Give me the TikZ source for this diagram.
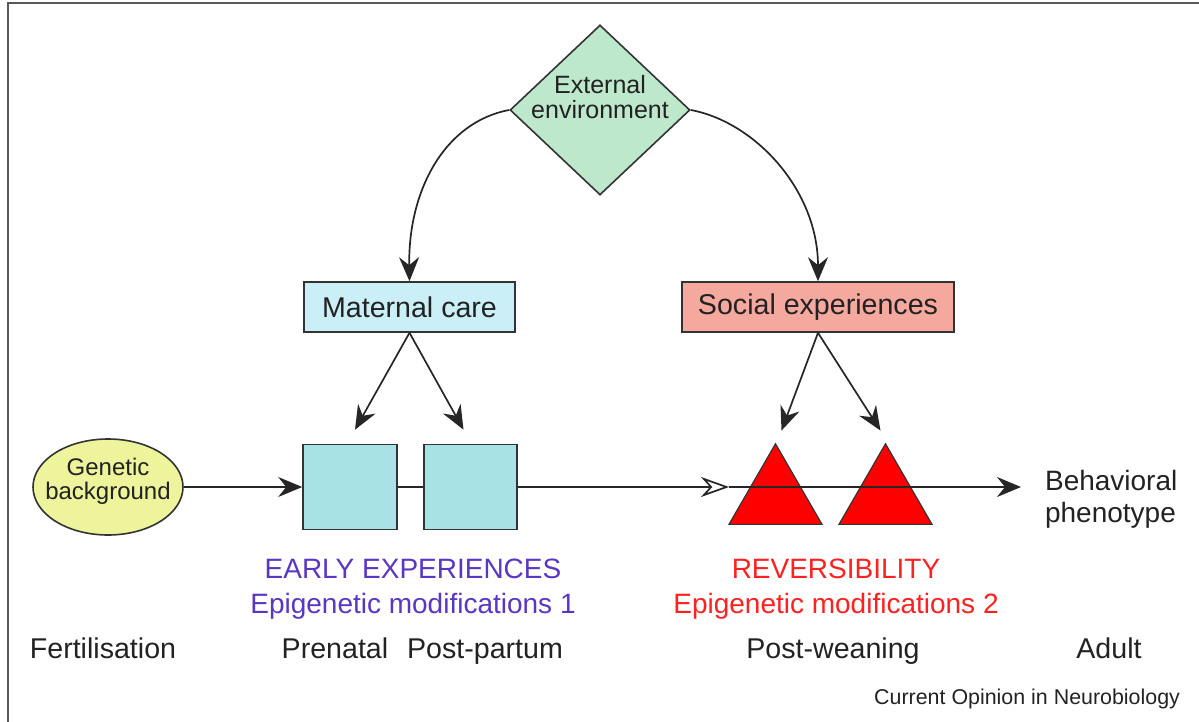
\documentclass[tikz,border=0pt]{standalone}
\usepackage{fontspec}
\setmainfont{Liberation Sans}
\usetikzlibrary{shapes.geometric,arrows.meta,calc}
\definecolor{dgreen}{HTML}{BDE8CB}
\definecolor{mblue}{HTML}{CBEFF7}
\definecolor{sred}{HTML}{F5A89E}
\definecolor{steal}{HTML}{A8E2E5}
\definecolor{eyel}{HTML}{EEF49C}
\definecolor{purp}{HTML}{5A36C4}
\definecolor{rtxt}{HTML}{FF2020}
\definecolor{edge}{HTML}{333333}
\definecolor{txt}{HTML}{222222}
\tikzset{
  every node/.style={text=txt},
  box/.style={draw=edge, line width=0.8pt, inner sep=0pt},
  bigtxt/.style={font=\fontsize{14.3}{17.5}\selectfont},
  arr/.style={-{Stealth[length=12pt,width=10pt,inset=4pt]}, line width=0.85pt, draw=black!85},
  openarr/.style={-{Stealth[open,fill=white,length=14pt,width=10pt,inset=4.5pt]}, line width=0.85pt, draw=black!85},
  plain/.style={line width=0.85pt, draw=black!85},
  tri/.style={regular polygon, regular polygon sides=3, minimum size=53.7pt, fill=red, draw=edge, line width=0.6pt, inner sep=0pt}
}
\begin{document}
\begin{tikzpicture}[x=0.5pt,y=-0.5pt]
\useasboundingbox (0,0) rectangle (1199,722);
% frame
\draw[line width=1pt, draw=black!65] (8,722) -- (8,3) -- (1199,3);

% diamond
\node[box, diamond, fill=dgreen, minimum width=90pt, minimum height=85pt,
  label={[yshift=6.5pt, align=center, font=\fontsize{12.5}{12.5}\selectfont, text=txt]center:External\\environment}]
  (env) at (600,110) {};

% top boxes
\node[box, fill=mblue, minimum width=105.5pt, minimum height=25pt, bigtxt] (mat) at (409.5,307) {Maternal care};
\node[box, fill=sred, minimum width=136pt, minimum height=25pt, bigtxt] (soc) at (818,307) {Social experiences};

% genetic background
\node[box, ellipse, fill=eyel, minimum width=75pt, minimum height=48pt,
  label={[yshift=3pt, align=center, font=\fontsize{12}{12}\selectfont, text=txt]center:Genetic\\background}]
  (gen) at (108,487) {};

% squares
\node[box, fill=steal, minimum width=47pt, minimum height=42.5pt] (sq1) at (350,487) {};
\node[box, fill=steal, minimum width=46.5pt, minimum height=42.5pt] (sq2) at (470.5,487) {};

% triangles (apex at y=443, base at y=525)
\node[tri] (t1) at (775.5,497.5) {};
\node[tri] (t2) at (885.5,497.5) {};

% behavioral phenotype
\node[anchor=west, align=left, font=\fontsize{14}{16}\selectfont] (beh) at (1038,499) {Behavioral\\phenotype};

% coordinates on the main line
\coordinate (mid) at (729,487);
\coordinate (fin) at (1021,487);

% curved arrows from environment
\draw[arr] (env.west) .. controls (445,122) and (408,190) .. (mat.north);
\draw[arr] (env.east) .. controls (755,122) and (818,190) .. (soc.north);

% maternal care arrows
\draw[arr] (mat.south) -- ($(sq1.north)+(5,-14)$);
\draw[arr] (mat.south) -- ($(sq2.north)+(-7,-14)$);

% social arrows
\draw[arr] (soc.south) -- ($(t1.corner 1)+(6,-12)$);
\draw[arr] (soc.south) -- ($(t2.corner 1)+(-5,-12)$);

% main line
\draw[arr] (gen.east) -- (sq1.west);
\draw[plain] (sq1.east) -- (sq2.west);
\draw[openarr] (sq2.east) -- (mid);
\draw[arr] (mid) -- (fin);

% stage labels
\node[align=center, text=purp, font=\fontsize{14}{17.5}\selectfont] (early) at (413,589) {EARLY EXPERIENCES\\Epigenetic modifications 1};
\node[align=center, text=rtxt, font=\fontsize{14}{17.5}\selectfont] (rev) at (836,589) {REVERSIBILITY\\Epigenetic modifications 2};

% time labels
\node[bigtxt, anchor=base] (fert) at (103,658) {Fertilisation};
\node[bigtxt, anchor=base] (pren) at (335,658) {Prenatal};
\node[bigtxt, anchor=base] (post) at (485,658) {Post-partum};
\node[bigtxt, anchor=base] (wean) at (833,658) {Post-weaning};
\node[bigtxt, anchor=base] (adult) at (1109,658) {Adult};

% credit
\node[anchor=base east, font=\fontsize{10.7}{12}\selectfont] (credit) at (1187,704) {Current Opinion in Neurobiology};
\end{tikzpicture}
\end{document}
